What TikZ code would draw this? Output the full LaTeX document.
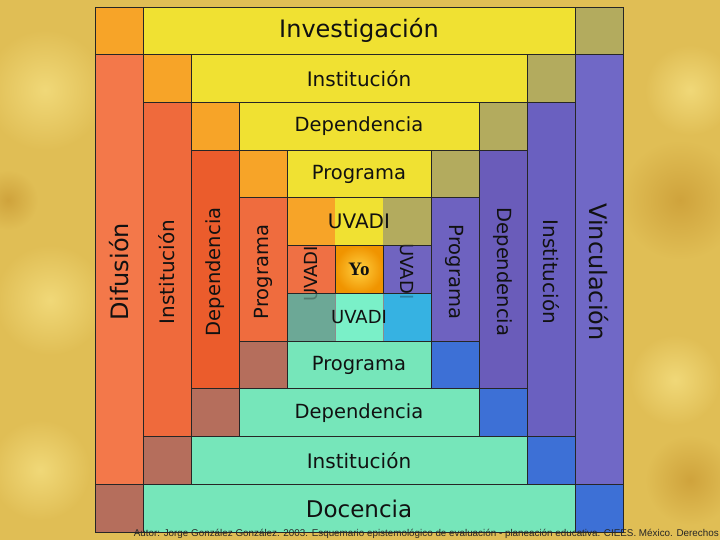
\documentclass[tikz,border=0pt]{standalone}
\usepackage{fontspec}
\setmainfont{DejaVu Sans}
\newfontfamily\yofont{Liberation Serif}
\newfontfamily\footfont{Liberation Sans}
\definecolor{bgc}{HTML}{E0BE55}
\definecolor{bglight}{HTML}{F0D878}
\definecolor{bgdark}{HTML}{CFA33C}
\definecolor{orng}{HTML}{F7A428}
\definecolor{yelw}{HTML}{F0E132}
\definecolor{oliv}{HTML}{B3AB5E}
\definecolor{redA}{HTML}{F3784A}
\definecolor{redB}{HTML}{EF6A3C}
\definecolor{redC}{HTML}{EB5C2C}
\definecolor{redD}{HTML}{EF6C3E}
\definecolor{redE}{HTML}{EF7044}
\definecolor{brwn}{HTML}{B56E5C}
\definecolor{aqua}{HTML}{76E6BA}
\definecolor{blu}{HTML}{3D70D6}
\definecolor{purA}{HTML}{7068C6}
\definecolor{purB}{HTML}{6A60C0}
\definecolor{purC}{HTML}{6A5CBA}
\definecolor{purD}{HTML}{6E62C0}
\definecolor{purE}{HTML}{7064C0}
\definecolor{tealg}{HTML}{6CA896}
\definecolor{aquab}{HTML}{7AF0C8}
\definecolor{cyn}{HTML}{36B2E2}
\definecolor{yoin}{HTML}{FFD040}
\definecolor{yoout}{HTML}{F09400}
\definecolor{txt}{HTML}{111111}
\tikzset{
  tile/.style={draw=black!85, line width=0.9pt},
  soft/.style={draw=black!45, line width=0.5pt},
  lbl/.style={text=txt, inner sep=0pt},
  big/.style={lbl, font=\fontsize{24}{24}\selectfont},
  mid/.style={lbl, font=\fontsize{19.5}{19.5}\selectfont},
  small/.style={lbl, font=\fontsize{18}{18}\selectfont},
}
\begin{document}
\begin{tikzpicture}[x=1pt,y=-1pt]
\useasboundingbox (0,0) rectangle (720,540);
\fill[bgc] (0,0) rectangle (720,540);
% background texture blotches
\shade[inner color=bglight, outer color=bgc] (45,90) circle (60);
\shade[inner color=bglight, outer color=bgc] (50,300) circle (55);
\shade[inner color=bglight, outer color=bgc] (40,470) circle (50);
\shade[inner color=bgdark, outer color=bgc] (8,200) circle (30);
\shade[inner color=bgdark, outer color=bgc] (680,200) circle (60);
\shade[inner color=bglight, outer color=bgc] (690,90) circle (45);
\shade[inner color=bglight, outer color=bgc] (675,380) circle (45);
\shade[inner color=bgdark, outer color=bgc] (690,480) circle (45);
\begin{scope}[shift={(95,7)}, x=48pt, y=-47.73pt]
  % ring 5
  \filldraw[tile, fill=orng] (0,0) rectangle (1,1);
  \filldraw[tile, fill=yelw] (1,0) rectangle (10,1);
  \filldraw[tile, fill=oliv] (10,0) rectangle (11,1);
  \filldraw[tile, fill=redA] (0,1) rectangle (1,10);
  \filldraw[tile, fill=purA] (10,1) rectangle (11,10);
  \filldraw[tile, fill=brwn] (0,10) rectangle (1,11);
  \filldraw[tile, fill=aqua] (1,10) rectangle (10,11);
  \filldraw[tile, fill=blu] (10,10) rectangle (11,11);
  % ring 4
  \filldraw[tile, fill=orng] (1,1) rectangle (2,2);
  \filldraw[tile, fill=yelw] (2,1) rectangle (9,2);
  \filldraw[tile, fill=oliv] (9,1) rectangle (10,2);
  \filldraw[tile, fill=redB] (1,2) rectangle (2,9);
  \filldraw[tile, fill=purB] (9,2) rectangle (10,9);
  \filldraw[tile, fill=brwn] (1,9) rectangle (2,10);
  \filldraw[tile, fill=aqua] (2,9) rectangle (9,10);
  \filldraw[tile, fill=blu] (9,9) rectangle (10,10);
  % ring 3
  \filldraw[tile, fill=orng] (2,2) rectangle (3,3);
  \filldraw[tile, fill=yelw] (3,2) rectangle (8,3);
  \filldraw[tile, fill=oliv] (8,2) rectangle (9,3);
  \filldraw[tile, fill=redC] (2,3) rectangle (3,8);
  \filldraw[tile, fill=purC] (8,3) rectangle (9,8);
  \filldraw[tile, fill=brwn] (2,8) rectangle (3,9);
  \filldraw[tile, fill=aqua] (3,8) rectangle (8,9);
  \filldraw[tile, fill=blu] (8,8) rectangle (9,9);
  % ring 2
  \filldraw[tile, fill=orng] (3,3) rectangle (4,4);
  \filldraw[tile, fill=yelw] (4,3) rectangle (7,4);
  \filldraw[tile, fill=oliv] (7,3) rectangle (8,4);
  \filldraw[tile, fill=redD] (3,4) rectangle (4,7);
  \filldraw[tile, fill=purD] (7,4) rectangle (8,7);
  \filldraw[tile, fill=brwn] (3,7) rectangle (4,8);
  \filldraw[tile, fill=aqua] (4,7) rectangle (7,8);
  \filldraw[tile, fill=blu] (7,7) rectangle (8,8);
  % ring 1
  \fill[orng] (4,4) rectangle (5,5);
  \fill[yelw] (5,4) rectangle (6,5);
  \fill[oliv] (6,4) rectangle (7,5);
  \fill[tealg] (4,6) rectangle (5,7);
  \fill[aquab] (5,6) rectangle (6,7);
  \fill[cyn] (6,6) rectangle (7,7);
  \filldraw[tile, fill=redE] (4,5) rectangle (5,6);
  \filldraw[tile, fill=purE] (6,5) rectangle (7,6);
  \shade[inner color=yoin, outer color=yoout] (5,5) rectangle (6,6);
  \draw[tile] (5,5) rectangle (6,6);
  % side UVADI labels (partly under the top and bottom rows)
  \node[small, rotate=90] (uvL) at (4.5,5.59) {UVADI};
  \node[small, rotate=-90] (uvR) at (6.5,5.54) {UVADI};
  % top and bottom UVADI rows laid over them
  \fill[orng, fill opacity=0.7] (4,4) rectangle (5,5);
  \fill[yelw, fill opacity=0.7] (5,4) rectangle (6,5);
  \fill[oliv, fill opacity=0.7] (6,4) rectangle (7,5);
  \fill[tealg, fill opacity=0.7] (4,6) rectangle (5,7);
  \fill[aquab, fill opacity=0.7] (5,6) rectangle (6,7);
  \fill[cyn, fill opacity=0.7] (6,6) rectangle (7,7);
  \draw[soft] (5,6) -- (5,7) (6,6) -- (6,7);
  \draw[tile] (4,4) rectangle (7,5);
  \draw[tile] (4,6) rectangle (7,7);
  % horizontal labels
  \node[big] (inv) at (5.5,0.5) {Investigación};
  \node[lbl, font=\fontsize{20}{20}\selectfont] (instT) at (5.5,1.5) {Institución};
  \node[mid] (depT) at (5.5,2.5) {Dependencia};
  \node[mid] (proT) at (5.5,3.5) {Programa};
  \node[lbl, font=\fontsize{20}{20}\selectfont] (uvT) at (5.5,4.5) {UVADI};
  \node[lbl, font=\yofont\bfseries\fontsize{19}{19}\selectfont] (yo) at (5.5,5.5) {Yo};
  \node[small] (uvB) at (5.5,6.5) {UVADI};
  \node[mid] (proB) at (5.5,7.5) {Programa};
  \node[mid] (depB) at (5.5,8.5) {Dependencia};
  \node[lbl, font=\fontsize{20}{20}\selectfont] (instB) at (5.5,9.5) {Institución};
  \node[lbl, font=\fontsize{23}{23}\selectfont] (doc) at (5.5,10.52) {Docencia};
  % vertical labels, left
  \node[big, rotate=90] (dif) at (0.5,5.55) {Difusión};
  \node[lbl, font=\fontsize{20}{20}\selectfont, rotate=90] (instL) at (1.5,5.55) {Institución};
  \node[mid, rotate=90] (depL) at (2.5,5.55) {Dependencia};
  \node[mid, rotate=90] (proL) at (3.5,5.55) {Programa};
  % vertical labels, right
  \node[big, rotate=-90] (vin) at (10.5,5.55) {Vinculación};
  \node[lbl, font=\fontsize{20}{20}\selectfont, rotate=-90] (instR) at (9.5,5.55) {Institución};
  \node[mid, rotate=-90] (depR) at (8.5,5.55) {Dependencia};
  \node[mid, rotate=-90] (proR) at (7.5,5.55) {Programa};
\end{scope}
\node[anchor=base east, inner sep=0pt, text=black!85, font=\footfont\fontsize{9.85}{9.85}\selectfont] (foot) at (719,536)
  {Autor: Jorge González González. 2003. Esquemario epistemológico de evaluación - planeación educativa. CIEES. México. Derechos};
\end{tikzpicture}
\end{document}
